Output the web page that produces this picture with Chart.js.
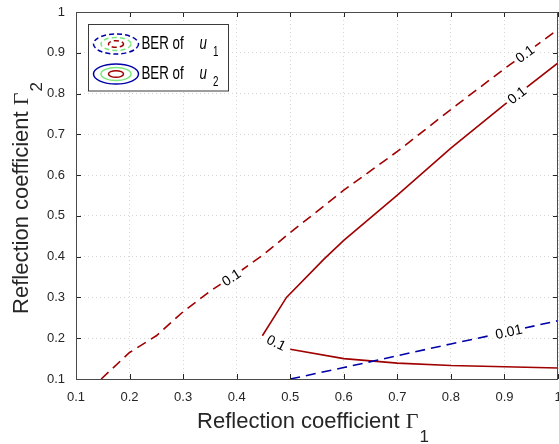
<!DOCTYPE html>
<html>
<head>
<meta charset="utf-8">
<script src="https://cdn.jsdelivr.net/npm/chart.js@4"></script>
<style>
  html, body { margin: 0; padding: 0; background: #fff; }
  canvas { display: block; }
</style>
</head>
<body>
<canvas id="berChart" width="559" height="444"></canvas>
<script>
// BER contour lines over the two reflection coefficients
const tickValues = [0.1, 0.2, 0.3, 0.4, 0.5, 0.6, 0.7, 0.8, 0.9, 1];

// u1, BER = 0.1 (dashed red)
const u1RedG1 = [0.147, 0.2, 0.25, 0.3, 0.35, 0.4, 0.45, 0.5, 0.6, 0.7, 0.8, 0.9, 1.0];
const u1RedG2 = [0.1, 0.165, 0.206, 0.265, 0.315, 0.358, 0.405, 0.459, 0.563, 0.658, 0.761, 0.861, 0.957];

// u1, BER = 0.01 (dashed blue)
const u1BlueG1 = [0.5, 0.6, 0.7, 0.8, 0.9, 1.0];
const u1BlueG2 = [0.1, 0.128, 0.157, 0.186, 0.214, 0.243];

// u2, BER = 0.1 (solid red), upper and lower branch
const u2UpperG1 = [0.448, 0.493, 0.563, 0.6, 0.7, 0.8, 0.9, 1.0];
const u2UpperG2 = [0.206, 0.3, 0.394, 0.44, 0.551, 0.666, 0.773, 0.875];
const u2LowerG1 = [0.5, 0.6, 0.7, 0.8, 0.9, 1.0];
const u2LowerG2 = [0.173, 0.15, 0.139, 0.133, 0.130, 0.127];

const RED = '#a00000';
const BLUE = '#0000a8';
const GREEN = '#7de87d';
const AXIS = '#262626';
const SANS = '"Liberation Sans", Arial, Helvetica, sans-serif';

const toPoints = (xs, ys) => xs.map((x, i) => ({ x: x, y: ys[i] }));

const curves = {
    u1Red: { xs: u1RedG1, ys: u1RedG2 },
    u1Blue: { xs: u1BlueG1, ys: u1BlueG2 },
    u2Upper: { xs: u2UpperG1, ys: u2UpperG2 },
    u2Join: { xs: [u2UpperG1[0], u2LowerG1[0]], ys: [u2UpperG2[0], u2LowerG2[0]] }
};

// inline contour labels: text, curve it sits on, and where along Γ1
const contourLabels = [
    { text: '0.1', curve: 'u1Red', at: 0.39 },
    { text: '0.1', curve: 'u1Red', at: 0.938 },
    { text: '0.1', curve: 'u2Upper', at: 0.923 },
    { text: '0.1', curve: 'u2Join', at: 0.474 },
    { text: '0.01', curve: 'u1Blue', at: 0.908 }
];

const fmt = v => String(Number(v.toFixed(1)));

function labelPlacement(chart, lbl) {
    const c = curves[lbl.curve];
    const sx = chart.scales.x, sy = chart.scales.y;
    let i = 0;
    while (i < c.xs.length - 2 && c.xs[i + 1] < lbl.at) i++;
    const t = (lbl.at - c.xs[i]) / (c.xs[i + 1] - c.xs[i]);
    const y = c.ys[i] + t * (c.ys[i + 1] - c.ys[i]);
    const px1 = sx.getPixelForValue(c.xs[i]), py1 = sy.getPixelForValue(c.ys[i]);
    const px2 = sx.getPixelForValue(c.xs[i + 1]), py2 = sy.getPixelForValue(c.ys[i + 1]);
    return { px: sx.getPixelForValue(lbl.at), py: sy.getPixelForValue(y), angle: Math.atan2(py2 - py1, px2 - px1) };
}

const contourLabelPlugin = {
    id: 'contourLabels',
    afterDatasetsDraw(chart) {
        const ctx = chart.ctx;
        ctx.save();
        ctx.font = '14px ' + SANS;
        ctx.textAlign = 'center';
        ctx.textBaseline = 'middle';
        contourLabels.forEach(lbl => {
            const p = labelPlacement(chart, lbl);
            const w = ctx.measureText(lbl.text).width;
            ctx.save();
            ctx.translate(p.px, p.py);
            ctx.rotate(p.angle);
            ctx.fillStyle = '#fff';
            ctx.fillRect(-w / 2 - 3, -6, w + 6, 12);
            ctx.fillStyle = '#000';
            ctx.fillText(lbl.text, 0, 1);
            ctx.restore();
        });
        ctx.restore();
    }
};

// box around the axes with inward ticks, like a closed frame
const framePlugin = {
    id: 'frame',
    afterDraw(chart) {
        const ctx = chart.ctx;
        const a = chart.chartArea;
        const sx = chart.scales.x, sy = chart.scales.y;
        ctx.save();
        ctx.strokeStyle = AXIS;
        ctx.lineWidth = 1;
        ctx.beginPath();
        tickValues.forEach(v => {
            const x = Math.round(sx.getPixelForValue(v)) + 0.5;
            ctx.moveTo(x, a.bottom); ctx.lineTo(x, a.bottom - 5);
            ctx.moveTo(x, a.top); ctx.lineTo(x, a.top + 5);
            const y = Math.round(sy.getPixelForValue(v)) + 0.5;
            ctx.moveTo(a.left, y); ctx.lineTo(a.left + 5, y);
            ctx.moveTo(a.right, y); ctx.lineTo(a.right - 5, y);
        });
        ctx.stroke();
        ctx.strokeStyle = '#4a4a4a';
        ctx.strokeRect(Math.round(a.left) + 0.5, Math.round(a.top) + 0.5,
            Math.round(a.right - a.left) - 1, Math.round(a.bottom - a.top));
        ctx.restore();
    }
};

function drawGammaTitle(ctx, sub, cx, baseline) {
    const main = 'Reflection coefficient ';
    ctx.font = '22px ' + SANS;
    const w1 = ctx.measureText(main).width;
    ctx.font = '22px "Liberation Serif", "Times New Roman", serif';
    const wg = ctx.measureText('\u0393').width;
    ctx.font = '17px ' + SANS;
    const ws = ctx.measureText(sub).width;
    let x = cx - (w1 + wg + 1 + ws) / 2;
    ctx.fillStyle = AXIS;
    ctx.textAlign = 'left';
    ctx.textBaseline = 'alphabetic';
    ctx.font = '22px ' + SANS;
    ctx.fillText(main, x, baseline);
    x += w1;
    ctx.font = '22px "Liberation Serif", "Times New Roman", serif';
    ctx.fillText('\u0393', x, baseline);
    x += wg + 1;
    ctx.font = '17px ' + SANS;
    ctx.fillText(sub, x, baseline + 14);
}

const titlePlugin = {
    id: 'axisTitles',
    afterDraw(chart) {
        const ctx = chart.ctx;
        ctx.save();
        drawGammaTitle(ctx, '1', 313, 428);
        ctx.translate(28, 198);
        ctx.rotate(-Math.PI / 2);
        drawGammaTitle(ctx, '2', 0, 0);
        ctx.restore();
    }
};

function drawLegendIcon(ctx, cx, cy, dashed) {
    ctx.save();
    ctx.lineWidth = 1.5;
    ctx.setLineDash(dashed ? [5, 3] : []);
    [[BLUE, 22.5, 10], [GREEN, 15, 6.5], [RED, 7.5, 3.3]].forEach(([col, rx, ry]) => {
        ctx.strokeStyle = col;
        ctx.beginPath();
        ctx.ellipse(cx, cy, rx, ry, 0, 0, Math.PI * 2);
        ctx.stroke();
    });
    ctx.restore();
}

function drawLegendText(ctx, x, baseline, sub) {
    ctx.save();
    ctx.fillStyle = '#000';
    ctx.textBaseline = 'alphabetic';
    ctx.textAlign = 'left';
    ctx.translate(x, baseline);
    ctx.scale(0.7, 1);
    ctx.font = '19px ' + SANS;
    ctx.fillText('BER of', 0, 0);
    ctx.font = 'italic 19px ' + SANS;
    ctx.fillText('u', 83, 0);
    ctx.font = '14px ' + SANS;
    ctx.fillText(sub, 102, 7);
    ctx.restore();
}

const legendPlugin = {
    id: 'ellipseLegend',
    afterDraw(chart) {
        const ctx = chart.ctx;
        ctx.save();
        ctx.fillStyle = '#fff';
        ctx.fillRect(88.5, 24.5, 140, 66.5);
        ctx.strokeStyle = '#3a3a3a';
        ctx.lineWidth = 1;
        ctx.strokeRect(88.5, 24.5, 140, 66.5);
        drawLegendIcon(ctx, 116, 44, true);
        drawLegendIcon(ctx, 116, 74, false);
        drawLegendText(ctx, 141.5, 48.5, '1');
        drawLegendText(ctx, 141.5, 78.5, '2');
        ctx.restore();
    }
};

const lineStyle = (color, dashed) => ({
    borderColor: color,
    borderWidth: 1.6,
    borderDash: dashed ? [10, 6] : [],
    pointRadius: 0,
    showLine: true,
    fill: false,
    tension: 0
});

const fixAxis = (w, h) => scale => {
    if (w) scale.width = w;
    if (h) scale.height = h;
    scale.paddingLeft = 0;
    scale.paddingRight = 0;
    scale.paddingTop = 0;
    scale.paddingBottom = 0;
};

const axisCommon = {
    type: 'linear',
    min: 0.1,
    max: 1,
    afterBuildTicks: scale => { scale.ticks = tickValues.map(v => ({ value: v })); },
    grid: { color: '#d6d6d6', lineWidth: 1, drawTicks: false },
    border: { display: false, dash: [1, 3] }
};

new Chart(document.getElementById('berChart').getContext('2d'), {
    type: 'scatter',
    data: {
        datasets: [
            { data: toPoints(u1RedG1, u1RedG2), ...lineStyle(RED, true) },
            { data: toPoints(u1BlueG1, u1BlueG2), ...lineStyle(BLUE, true) },
            { data: toPoints(u2UpperG1, u2UpperG2), ...lineStyle(RED, false) },
            { data: toPoints(u2LowerG1, u2LowerG2), ...lineStyle(RED, false) }
        ]
    },
    options: {
        responsive: false,
        animation: false,
        devicePixelRatio: 1,
        layout: { padding: { top: 12, right: 1, left: 0, bottom: 0 } },
        plugins: {
            legend: { display: false },
            tooltip: { enabled: false }
        },
        scales: {
            x: {
                ...axisCommon,
                position: 'bottom',
                afterFit: fixAxis(0, 65),
                ticks: { color: AXIS, font: { size: 13, family: SANS }, padding: 11, maxRotation: 0, callback: fmt }
            },
            y: {
                ...axisCommon,
                position: 'left',
                afterFit: fixAxis(76, 0),
                ticks: { color: AXIS, font: { size: 13, family: SANS }, padding: 11, callback: fmt }
            }
        }
    },
    plugins: [contourLabelPlugin, framePlugin, titlePlugin, legendPlugin]
});
</script>
</body>
</html>
